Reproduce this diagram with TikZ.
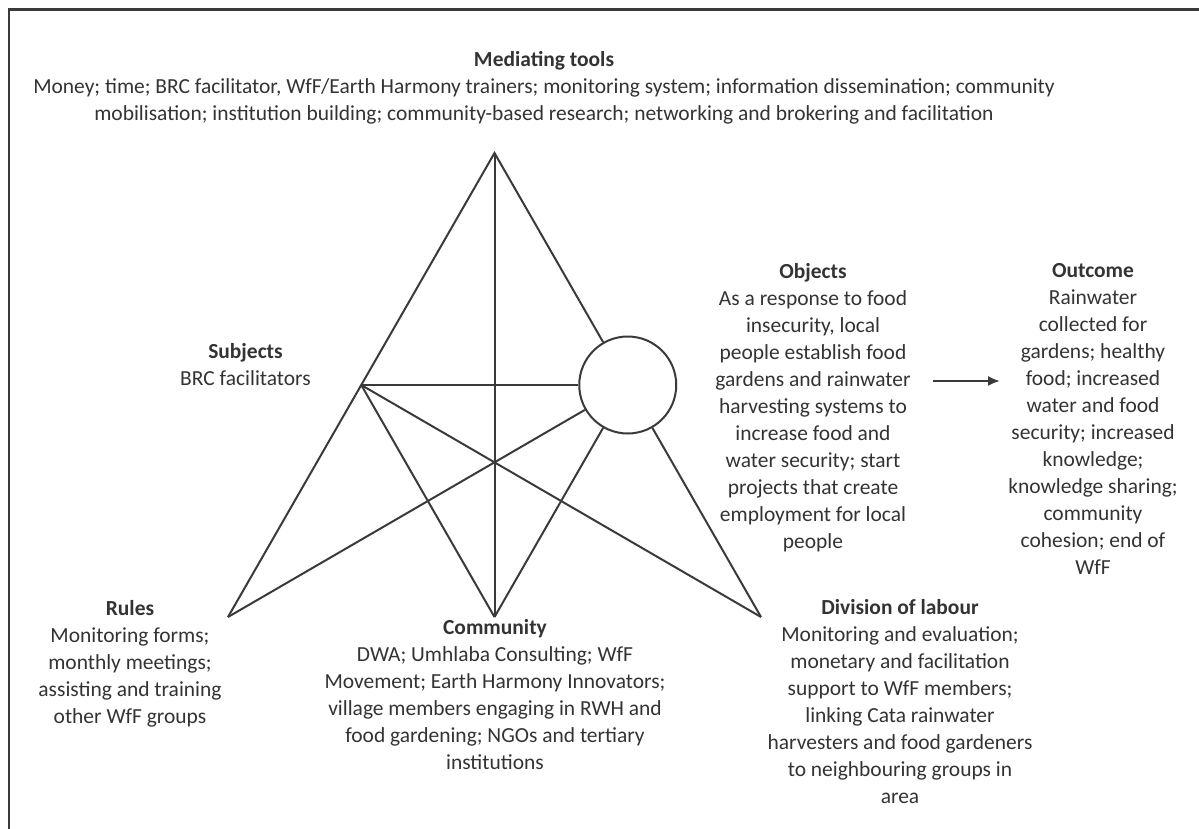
\documentclass[tikz,border=0pt]{standalone}
\usepackage{fontspec}
\setmainfont{Carlito}
\usetikzlibrary{arrows.meta}
\definecolor{ink}{HTML}{333333}
\definecolor{edge}{HTML}{3A3A3A}
\begin{document}
\begin{tikzpicture}[x=0.75pt,y=-0.75pt,
  txt/.style={text=ink, align=center, inner sep=0pt, anchor=north,
    font=\fontsize{16.1}{20.25}\selectfont},
  leg/.style={draw=edge, line width=1.5pt},
  hub/.style={circle, draw=edge, line width=1.5pt, fill=white,
    minimum size=72.75pt, inner sep=0pt}]
\useasboundingbox (0,0) rectangle (1199,828);
\clip (0,0) rectangle (1199,828);
% outer frame
\draw[draw=edge, line width=2.1pt] (9,9.5) rectangle (1300,900);

% activity triangle
\coordinate (A) at (494.5,153);
\coordinate (L) at (228,617);
\coordinate (R) at (761,617);
\coordinate (S) at (361.25,385);
\coordinate (M) at (494.5,617);
\node[hub] (obj) at (627.75,385) {};

\draw[leg] (L) -- (A) -- (obj);
\draw[leg] (obj) -- (R);
\draw[leg] (A) -- (M);
\draw[leg] (S) -- (obj);
\draw[leg] (S) -- (M);
\draw[leg] (S) -- (R);
\draw[leg] (L) -- (obj);
\draw[leg] (obj) -- (M);

% labels
\node[txt] (tools) at (544,51) {\textbf{Mediating tools}\\
  Money; time; BRC facilitator, WfF/Earth Harmony trainers; monitoring system; information dissemination; community\\
  mobilisation; institution building; community-based research; networking and brokering and facilitation};

\node[txt] (subj) at (245.5,343) {\textbf{Subjects}\\BRC facilitators};

\node[txt] (objt) at (813,263) {\textbf{Objects}\\
  As a response to food\\insecurity, local\\people establish food\\gardens and rainwater\\
  harvesting systems to\\increase food and\\water security; start\\projects that create\\
  employment for local\\people};

\node[txt] (out) at (1093,263) {\textbf{Outcome}\\
  Rainwater\\collected for\\gardens; healthy\\food; increased\\water and food\\
  security; increased\\knowledge;\\knowledge sharing;\\community\\cohesion; end of\\WfF};

\node[txt] (rules) at (130,600) {\textbf{Rules}\\
  Monitoring forms;\\monthly meetings;\\assisting and training\\other WfF groups};

\node[txt] (comm) at (495,619) {\textbf{Community}\\
  DWA; Umhlaba Consulting; WfF\\Movement; Earth Harmony Innovators;\\
  village members engaging in RWH and\\food gardening; NGOs and tertiary\\institutions};

\node[txt] (div) at (900,599) {\textbf{Division of labour}\\
  Monitoring and evaluation;\\monetary and facilitation\\support to WfF members;\\
  linking Cata rainwater\\harvesters and food gardeners\\to neighbouring groups in\\area};

% object leads to outcome
\coordinate (arrS) at (933,381);
\coordinate (arrE) at (1000,381);
\draw[draw=edge, line width=1.5pt, -{Latex[length=9pt,width=7.5pt]}] (arrS) -- (arrE);
\end{tikzpicture}
\end{document}
